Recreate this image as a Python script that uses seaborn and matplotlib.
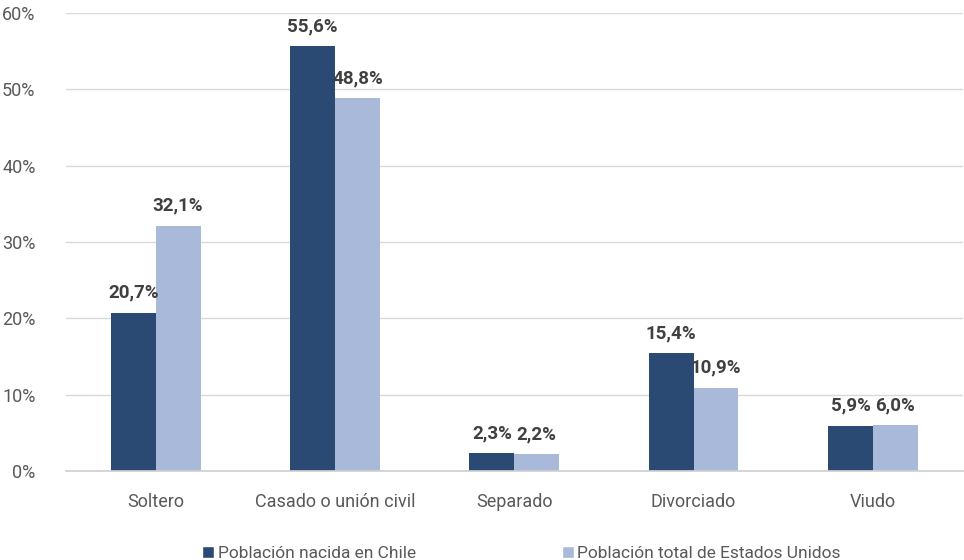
import matplotlib
matplotlib.use("Agg")
import matplotlib.pyplot as plt
import seaborn as sns
import pandas as pd
from matplotlib.patches import Patch

categorias = ["Soltero", "Casado o unión civil", "Separado", "Divorciado", "Viudo"]
chile = [20.7, 55.6, 2.3, 15.4, 5.9]
eeuu = [32.1, 48.8, 2.2, 10.9, 6.0]
series = ["Población nacida en Chile", "Población total de Estados Unidos"]
y_ticks = [0, 10, 20, 30, 40, 50, 60]

DARK = "#2B4A73"
LIGHT = "#A9B9D9"
TXT = "#595959"

sns.set_theme(style="white")
plt.rcParams["font.family"] = ["Roboto", "DejaVu Sans"]

df = pd.DataFrame({
    "cat": categorias * 2,
    "serie": [series[0]] * len(categorias) + [series[1]] * len(categorias),
    "valor": chile + eeuu,
})

fig = plt.figure(figsize=(9.64, 5.6), dpi=100)
ax = fig.add_axes([0.0685, 0.159, 0.93, 0.818])

sns.barplot(data=df, x="cat", y="valor", hue="serie", palette=[DARK, LIGHT],
            width=0.5, saturation=1, linewidth=0, ax=ax, legend=False)

ax.set_ylim(0, 60)
ax.set_yticks(y_ticks)
ax.set_yticklabels([f"{t}%" for t in y_ticks], color=TXT, fontsize=13)
ax.tick_params(axis="x", colors=TXT, labelsize=13, pad=16, length=0)
ax.tick_params(axis="y", length=0, pad=22)
ax.set_xlabel("")
ax.set_ylabel("")
ax.grid(axis="y", color="#D9D9D9", linewidth=1)
ax.set_axisbelow(True)
for s in ["top", "right", "left"]:
    ax.spines[s].set_visible(False)
ax.spines["bottom"].set_color("#D0D0D0")

for cont in ax.containers:
    ax.bar_label(cont, labels=[f"{v:.1f}%".replace(".", ",") for v in cont.datavalues],
                 padding=8, fontsize=13.5, fontweight="bold", color="#404040")

handles = [Patch(facecolor=DARK), Patch(facecolor=LIGHT)]
fig.legend(handles, series, loc="lower center", bbox_to_anchor=(0.541, -0.03), ncol=2,
           frameon=False, fontsize=12.5, handlelength=0.7, handleheight=0.7,
           handletextpad=0.2, columnspacing=8.4, labelcolor=TXT)

fig.savefig("out.png", dpi=100)
